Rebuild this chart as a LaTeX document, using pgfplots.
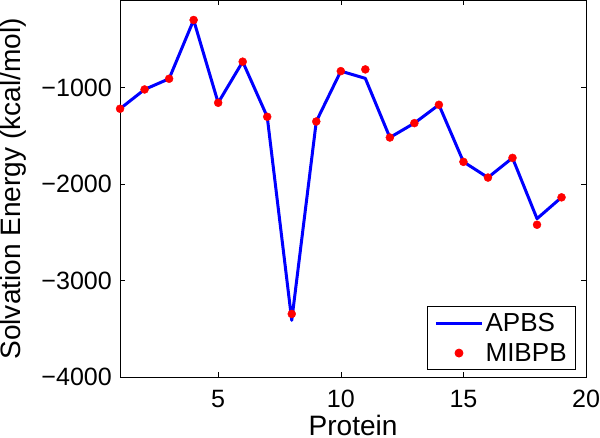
\documentclass[border=0pt]{standalone}
\usepackage{fontspec}
\setmainfont{Liberation Sans}
\usepackage{pgfplots}
\pgfplotsset{compat=1.18}
\definecolor{apbsBlue}{RGB}{0,0,255}
\definecolor{mibpbRed}{RGB}{255,0,0}
\pgfplotsset{
  lineleg/.style={legend image code/.code={\draw[##1] (0pt,0pt) -- (46pt,0pt);}},
  markleg/.style={legend image code/.code={\draw[mark repeat=2,mark phase=2,##1]
        plot coordinates {(0pt,0pt) (23pt,0pt) (46pt,0pt)};}},
}

\begin{document}
\begin{tikzpicture}
  \begin{axis}[
    scale only axis,
    width=465pt, height=376pt,
    xmin=1, xmax=20, ymin=-4000, ymax=-95,
    xtick={5,10,15,20},
    ytick={-4000,-3000,-2000,-1000},
    yticklabels={−4000,−3000,−2000,−1000},
    tick align=inside,
    major tick length=5pt,
    tick style={black, line width=0.6pt},
    axis line style={black, line width=0.8pt},
    /pgf/number format/assume math mode=true,
    ticklabel style={font=\fontsize{25}{30}\selectfont, inner sep=0pt},
    xticklabel style={yshift=-13pt},
    yticklabel style={xshift=-8pt},
    xlabel={Protein},
    ylabel={Solvation Energy (kcal/mol)},
    label style={font=\fontsize{28}{34}\selectfont, inner sep=0pt},
    xlabel style={at={(axis description cs:0.5,0)}, anchor=north,
      yshift=-38pt, text depth=2pt},
    ylabel style={at={(axis description cs:0,0.5)}, anchor=north,
      yshift=120pt},
    legend cell align=left,
    legend style={at={(1,0)}, anchor=south east, xshift=-10pt, yshift=7pt,
      font=\fontsize{26}{31}\selectfont, draw=black, line width=0.8pt,
      inner xsep=7pt, inner ysep=5pt, row sep=6pt},
  ]
    \addplot[apbsBlue, line width=3pt, line join=round, mark=none, lineleg]
      coordinates {(1,-1218) (2,-1018) (3,-907) (4,-298) (5,-1156) (6,-730)
        (7,-1301) (8,-3410) (9,-1350) (10,-828) (11,-903) (12,-1516)
        (13,-1367) (14,-1177) (15,-1768) (16,-1931) (17,-1727) (18,-2357)
        (19,-2136)};
    \addplot[only marks, mark=*, mark size=4pt, mibpbRed,
      mark options={fill=mibpbRed, draw=mibpbRed}, markleg]
      coordinates {(1,-1218) (2,-1018) (3,-907) (4,-298) (5,-1156) (6,-730)
        (7,-1301) (8,-3344) (9,-1350) (10,-828) (11,-810) (12,-1516)
        (13,-1367) (14,-1177) (15,-1768) (16,-1931) (17,-1727) (18,-2420)
        (19,-2136)};
    \legend{APBS,MIBPB}
  \end{axis}
\end{tikzpicture}
\end{document}
